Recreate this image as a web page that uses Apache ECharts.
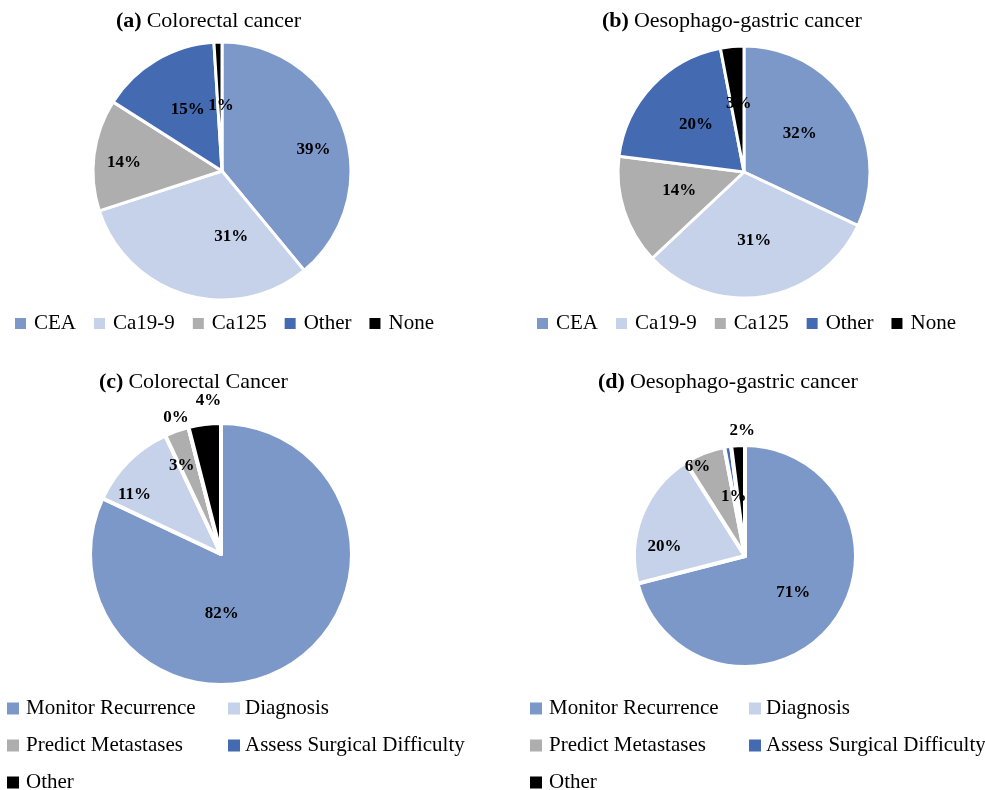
<!DOCTYPE html>
<html>
<head>
<meta charset="utf-8">
<script src="https://cdn.jsdelivr.net/npm/echarts@6/dist/echarts.min.js"></script>
<style>
  html, body { margin: 0; padding: 0; background: #fff; }
  #chart { width: 985px; height: 790px; }
</style>
</head>
<body>
<div id="chart"></div>
<script>
// Tumour markers used (top row) and reasons for testing (bottom row)
const markerNames = ['CEA', 'Ca19-9', 'Ca125', 'Other', 'None'];
const colorectalMarkers = [39, 31, 14, 15, 1];
const gastricMarkers = [32, 31, 14, 20, 3];

const purposeNames = ['Monitor Recurrence', 'Diagnosis', 'Predict Metastases', 'Assess Surgical Difficulty', 'Other'];
const colorectalPurpose = [82, 11, 3, 0, 4];
const gastricPurpose = [71, 20, 6, 1, 2];

const sliceColors = ['#7c98c9', '#c5d2ea', '#aeaeae', '#446ab2', '#000000'];

// label nudges (px) relative to the default inside position
const nudgeA = [[28, 1], [28, 1], [-31, 0], [0, -3], [1, 2]];
const nudgeB = [[0, -3], [0, 3], [-2, -2], [0, -2], [1, -3]];
const nudgeC = [[-36, 2], [-38, -11], [-16, -24], [-28, -70], [-4, -85]];
const nudgeD = [[2, 1], [-26, 12], [-26, -35], [-2, -2], [1, -67]];

const FONT = "'Liberation Serif', 'Times New Roman', serif";

function pieData(names, values, nudges) {
  return names.map((n, i) => ({
    name: n,
    value: values[i],
    itemStyle: { color: sliceColors[i] },
    label: { offset: nudges[i] }
  }));
}

function pieSeries(names, values, nudges, center, radius, border) {
  return {
    type: 'pie',
    center: center,
    radius: radius,
    startAngle: 90,
    clockwise: true,
    avoidLabelOverlap: false,
    silent: true,
    itemStyle: { borderColor: '#ffffff', borderWidth: border },
    label: {
      show: true,
      position: 'inside',
      formatter: '{c}%',
      color: '#000',
      fontFamily: FONT,
      fontWeight: 'bold',
      fontSize: 17
    },
    labelLine: { show: false },
    emphasis: { disabled: true },
    data: pieData(names, values, nudges)
  };
}

function legendData(names, idx) {
  return idx.map(i => ({
    name: names[i],
    itemStyle: { color: sliceColors[i], borderWidth: 0 }
  }));
}

function legendBox(names, idx, left, top, orient, size, gap, textPad) {
  return {
    orient: orient,
    left: left,
    top: top,
    height: 120,
    width: 480,
    icon: 'rect',
    itemWidth: size,
    itemHeight: size,
    itemGap: gap,
    selectedMode: false,
    padding: 0,
    itemStyle: { borderWidth: 0 },
    textStyle: {
      fontFamily: FONT,
      fontSize: 21,
      lineHeight: 21,
      color: '#000',
      padding: [0, 0, 0, textPad]
    },
    data: legendData(names, idx)
  };
}

function titleBox(tag, text, left, top) {
  return {
    text: '{b|' + tag + '} {n|' + text + '}',
    left: left,
    top: top,
    padding: 0,
    textStyle: {
      fontWeight: 'normal',
      rich: {
        b: { fontFamily: FONT, fontWeight: 'bold', fontSize: 22, color: '#000' },
        n: { fontFamily: FONT, fontWeight: 'normal', fontSize: 22, color: '#000' }
      }
    }
  };
}

const chart = echarts.init(document.getElementById('chart'));
chart.setOption({
  backgroundColor: '#ffffff',
  animation: false,
  title: [
    titleBox('(a)', 'Colorectal cancer', 116, 10),
    titleBox('(b)', 'Oesophago-gastric cancer', 602, 10),
    titleBox('(c)', 'Colorectal Cancer', 99, 371),
    titleBox('(d)', 'Oesophago-gastric cancer', 598, 371)
  ],
  legend: [
    legendBox(markerNames, [0, 1, 2, 3, 4], 15, 313, 'horizontal', 11, 18, 3),
    legendBox(markerNames, [0, 1, 2, 3, 4], 537, 313, 'horizontal', 11, 18, 3),
    legendBox(purposeNames, [0, 2, 4], 7, 698, 'vertical', 12, 16, 2),
    legendBox(purposeNames, [1, 3], 228, 698, 'vertical', 12, 16, 0),
    legendBox(purposeNames, [0, 2, 4], 530, 698, 'vertical', 12, 16, 2),
    legendBox(purposeNames, [1, 3], 749, 698, 'vertical', 12, 16, 0)
  ],
  series: [
    pieSeries(markerNames, colorectalMarkers, nudgeA, [222, 171], 129, 3),
    pieSeries(markerNames, gastricMarkers, nudgeB, [744, 172], 126, 3),
    pieSeries(purposeNames, colorectalPurpose, nudgeC, [221, 554], 131, 4),
    pieSeries(purposeNames, gastricPurpose, nudgeD, [745, 556], 111, 4)
  ]
});
</script>
</body>
</html>
